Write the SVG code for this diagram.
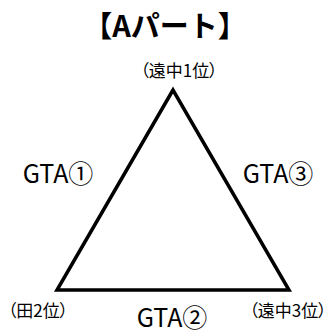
<svg xmlns="http://www.w3.org/2000/svg" width="331" height="333" viewBox="0 0 331 333">
<style>
.t{font-family:"Noto Sans CJK JP","Noto Sans",sans-serif;fill:#000}
.title{font-size:29px;font-weight:bold}
.s{font-size:17px;font-feature-settings:"palt"}
.g{font-size:25px}
</style>
<rect width="331" height="333" fill="#fff"/>
<g id="title"><text class="t title" x="165" y="37" text-anchor="middle">【Aパート】</text></g>
<g id="connectors">
<polygon points="173,90 57,290 289,290" fill="none" stroke="#000" stroke-width="3.5" stroke-linejoin="miter"/>
</g>
<g id="top"><text class="t s" x="179" y="77" text-anchor="middle">（遠中1位）</text></g>
<g id="left"><text class="t s" x="38" y="317" text-anchor="middle">（田2位）</text></g>
<g id="right"><text class="t s" x="288" y="317" text-anchor="middle">（遠中3位）</text></g>
<g id="gta1"><text class="t g" x="58" y="183" text-anchor="middle">GTA①</text></g>
<g id="gta3"><text class="t g" x="278" y="183" text-anchor="middle">GTA③</text></g>
<g id="gta2"><text class="t g" x="172" y="327" text-anchor="middle">GTA②</text></g>
</svg>
